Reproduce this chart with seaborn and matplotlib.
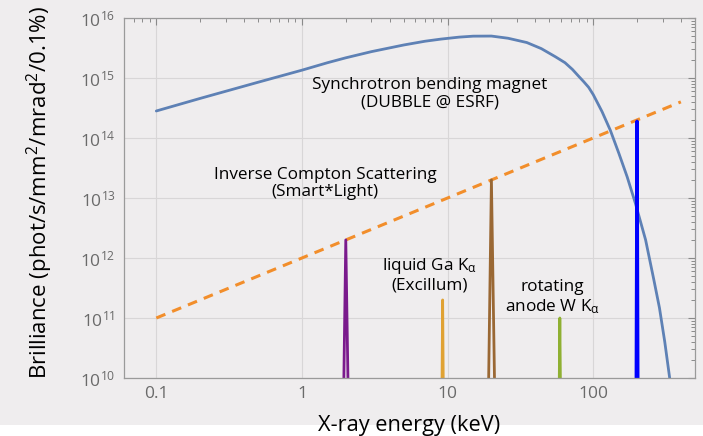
import numpy as np
import pandas as pd
import matplotlib
matplotlib.use("Agg")
import matplotlib.pyplot as plt
from matplotlib.patches import Rectangle
from matplotlib.ticker import FixedLocator, LogLocator, NullFormatter
import seaborn as sns

# ---------------- data ----------------
# Synchrotron bending magnet (DUBBLE @ ESRF)
sync_energy = [0.1, 0.2, 0.5, 1, 1.5, 2, 3, 5, 7, 9, 12, 15, 20, 26, 35,
               44, 55, 64, 72, 80, 86, 93, 100, 115, 131, 150, 171, 195,
               229, 260, 285, 310, 335, 360]
sync_brill = [2.82e14, 4.57e14, 8.5e14, 1.35e15, 1.8e15, 2.17e15, 2.75e15,
              3.55e15, 4.1e15, 4.45e15, 4.8e15, 4.98e15, 5.0e15, 4.6e15,
              3.9e15, 3.09e15, 2.26e15, 1.8e15, 1.39e15, 1.05e15, 8.7e14,
              7.0e14, 5.3e14, 2.75e14, 1.35e14, 5.56e13, 2.26e13, 8.1e12,
              2.0e12, 4.5e11, 1.48e11, 4.0e10, 1.0e10, 2.5e9]

# Inverse Compton Scattering (Smart*Light)
ics_energy = [0.1, 400]
ics_brill = [1e11, 4e14]

# narrow emission lines
purple_energy = [1.915, 2.0, 2.1]
purple_brill = [1e9, 2e12, 1e9]
ga_energy = [9.1, 9.25, 9.4]
ga_brill = [1e9, 2e11, 1e9]
brown_energy = [18.9, 20.0, 21.3]
brown_brill = [1e9, 2e13, 1e9]
w_energy = [58.0, 59.0, 60.0]
w_brill = [1e9, 1e11, 1e9]
blue_energy = [197.0, 200.0, 203.0]
blue_brill = [1e9, 1.9e14, 1e9]

xtick_vals = [0.1, 1, 10, 100]
xtick_labels = ["0.1", "1", "10", "100"]
ytick_vals = [1e10, 1e11, 1e12, 1e13, 1e14, 1e15, 1e16]
ytick_labels = [r"$10^{10}$", r"$10^{11}$", r"$10^{12}$", r"$10^{13}$",
                r"$10^{14}$", r"$10^{15}$", r"$10^{16}$"]

# ---------------- style ----------------
sns.set_theme(style="white")
plt.rcParams["font.family"] = ["Open Sans", "DejaVu Sans"]
plt.rcParams["mathtext.default"] = "regular"

bg = "#efedee"
fig = plt.figure(figsize=(7.03, 4.36), dpi=100, facecolor="white")
fig.patches.append(Rectangle((0, 11 / 436), 1, 1, transform=fig.transFigure,
                             facecolor=bg, edgecolor="none", zorder=-10))
ax = fig.add_axes([124 / 703, 58 / 436, (695 - 124) / 703, (378 - 18) / 436])
ax.set_facecolor(bg)

sns.lineplot(x=sync_energy, y=sync_brill, ax=ax, color="#5e81b5", lw=2.0,
             estimator=None, sort=False)
sns.lineplot(x=ics_energy, y=ics_brill, ax=ax, color="#f28e2b", lw=2.2,
             linestyle=(0, (3.2, 2.4)), estimator=None)

peaks = [
    (purple_energy, purple_brill, "#7a1a8c", 2.0),
    (ga_energy, ga_brill, "#e0a233", 2.0),
    (brown_energy, brown_brill, "#9a6834", 2.0),
    (w_energy, w_brill, "#8fb032", 2.0),
    (blue_energy, blue_brill, "#0000ff", 2.4),
]
for ex, by, col, lw in peaks:
    sns.lineplot(x=ex, y=by, ax=ax, color=col, lw=lw, estimator=None,
                 sort=False)

ax.set_xscale("log")
ax.set_yscale("log")
ax.set_xlim(0.06, 500)
ax.set_ylim(1e10, 1e16)

ax.xaxis.set_major_locator(FixedLocator(xtick_vals))
ax.set_xticklabels(xtick_labels)
ax.xaxis.set_minor_locator(LogLocator(base=10, subs=np.arange(2, 10), numticks=20))
ax.xaxis.set_minor_formatter(NullFormatter())
ax.yaxis.set_major_locator(FixedLocator(ytick_vals))
ax.set_yticklabels(ytick_labels)
ax.yaxis.set_minor_locator(LogLocator(base=10, subs=np.arange(2, 10), numticks=20))
ax.yaxis.set_minor_formatter(NullFormatter())

ax.tick_params(which="both", direction="in", top=True, right=True,
               color="#8a8a8a", labelcolor="#6a6a6a")
ax.tick_params(which="major", length=5, width=0.8, labelsize=12.5, pad=6)
ax.tick_params(which="minor", length=3, width=0.7)
for s in ax.spines.values():
    s.set_color("#9a9a9a")
    s.set_linewidth(0.9)
ax.grid(True, which="major", color="#d8d6d7", lw=0.8)
ax.set_axisbelow(True)

ax.set_xlabel("X-ray energy (keV)", fontsize=15.7, color="black")
ax.xaxis.set_label_coords(0.5, -0.103)
ax.set_ylabel("Brilliance (phot/s/mm$^2$/mrad$^2$/0.1%)", fontsize=16,
              color="black")
ax.yaxis.set_label_coords(-0.121, 0.515)

akw = dict(fontsize=12.3, ha="center", va="center", linespacing=1.15,
           color="black")
fig.text(430 / 703, 1 - 93.5 / 436, "Synchrotron bending magnet\n(DUBBLE @ ESRF)", **akw)
fig.text(325 / 703, 1 - 183.5 / 436, "Inverse Compton Scattering\n(Smart*Light)", **akw)
fig.text(430 / 703, 1 - 275 / 436, "liquid Ga K$_α$\n(Excillum)", **akw)
fig.text(552 / 703, 1 - 297.5 / 436, "rotating\nanode W K$_α$", **akw)

fig.savefig("out.png", dpi=100, facecolor="white")
